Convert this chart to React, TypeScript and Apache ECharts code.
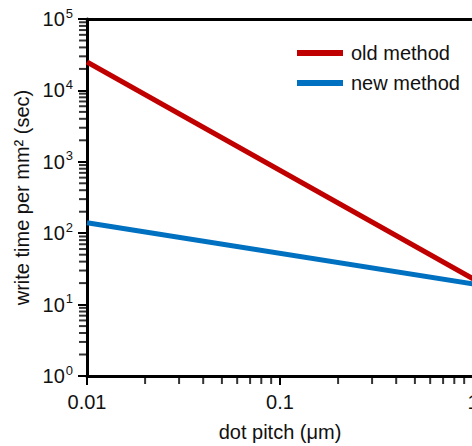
import React, { useEffect, useRef } from "react";
import * as echarts from "echarts";

const xTicks = [0.01, 0.1, 1];
const pitch = [0.01, 1];
const oldMethod = [25000, 23];
const newMethod = [140, 19.5];
const xMinor = [0.02, 0.03, 0.04, 0.05, 0.06, 0.07, 0.08, 0.09, 0.2, 0.3, 0.4, 0.5, 0.6, 0.7, 0.8, 0.9];
const yMinorBase = [2, 3, 4, 5, 6, 7, 8, 9];
const yDecades = [1, 10, 100, 1000, 10000];
const yMinor: number[] = [];
yDecades.forEach((d) => yMinorBase.forEach((m) => yMinor.push(d * m)));

const FONT = "Liberation Sans, Arial, sans-serif";

export default function App() {
  const ref = useRef<HTMLDivElement>(null);
  useEffect(() => {
    const chart = echarts.init(ref.current!, null, { renderer: "svg" });
    chart.setOption({
      animation: false,
      textStyle: { fontFamily: FONT },
      grid: { left: 87, right: -1, top: 19, bottom: 70, outerBoundsMode: "none", containLabel: false },
      legend: {
        orient: "vertical",
        left: 297,
        top: 43,
        padding: 0,
        itemWidth: 46,
        itemHeight: 6,
        itemGap: 10,
        icon: "rect",
        textStyle: { fontSize: 20, color: "#111", fontFamily: FONT, padding: [0, 0, 0, 3] },
        data: ["old method", "new method"],
      },
      xAxis: [
        {
          type: "log",
          logBase: 10,
          min: 0.01,
          max: 1,
          name: "dot pitch (μm)",
          nameLocation: "middle",
          nameGap: 46,
          nameMoveOverlap: false,
          nameTextStyle: { fontSize: 20, color: "#111", fontFamily: FONT },
          axisLine: { lineStyle: { color: "#000", width: 3 } },
          axisTick: { show: true, inside: false, length: 9, lineStyle: { color: "#000", width: 2 } },
          axisLabel: {
            fontSize: 20,
            color: "#111",
            margin: 16,
            fontFamily: FONT,
            formatter: (v: number) => (xTicks.includes(+v.toPrecision(3)) ? String(+v.toPrecision(3)) : ""),
          },
          splitLine: { show: false },
        },
        {
          type: "log",
          logBase: 10,
          min: 0.01,
          max: 1,
          position: "top",
          axisLine: { lineStyle: { color: "#000", width: 3 } },
          axisTick: { show: false },
          axisLabel: { show: false },
          splitLine: { show: false },
        },
      ],
      yAxis: {
        type: "log",
        logBase: 10,
        min: 1,
        max: 100000,
        name: "write time per mm² (sec)",
        nameLocation: "middle",
        nameGap: 55,
        nameMoveOverlap: false,
        nameTextStyle: { fontSize: 20, color: "#111", fontFamily: FONT },
        axisLine: { lineStyle: { color: "#000", width: 3 } },
        axisTick: { show: true, inside: false, length: 9, lineStyle: { color: "#000", width: 2 } },
        axisLabel: {
          margin: 14,
          fontFamily: FONT,
          formatter: (v: number) => "{b|10}{s|" + Math.round(Math.log10(v)) + "}",
          rich: {
            b: { fontSize: 20, color: "#111", fontFamily: FONT },
            s: { fontSize: 13, color: "#111", fontFamily: FONT, padding: [0, 0, 12, 1] },
          },
        },
        splitLine: { show: false },
      },
      series: [
        {
          name: "old method",
          type: "line",
          data: pitch.map((x, i) => [x, oldMethod[i]]),
          symbol: "none",
          lineStyle: { color: "#C00000", width: 5 },
          itemStyle: { color: "#C00000" },
          clip: false,
          z: 3,
        },
        {
          name: "new method",
          type: "line",
          data: pitch.map((x, i) => [x, newMethod[i]]),
          symbol: "none",
          lineStyle: { color: "#0070C0", width: 5 },
          itemStyle: { color: "#0070C0" },
          clip: false,
          z: 3,
        },
        {
          type: "scatter",
          silent: true,
          clip: false,
          data: xMinor.map((v) => [v, 1]),
          symbol: "rect",
          symbolSize: [2, 7],
          symbolOffset: [0, 4.5],
          itemStyle: { color: "#000" },
          z: 1,
        },
        {
          type: "scatter",
          silent: true,
          clip: false,
          data: yMinor.map((v) => [0.01, v]),
          symbol: "rect",
          symbolSize: [7, 2],
          symbolOffset: [-4.5, 0],
          itemStyle: { color: "#000" },
          z: 1,
        },
      ],
    });
    return () => chart.dispose();
  }, []);
  return (
    <div
      ref={ref}
      style={{ position: "fixed", left: 0, top: 0, width: 472, height: 446, background: "#fff" }}
    />
  );
}
